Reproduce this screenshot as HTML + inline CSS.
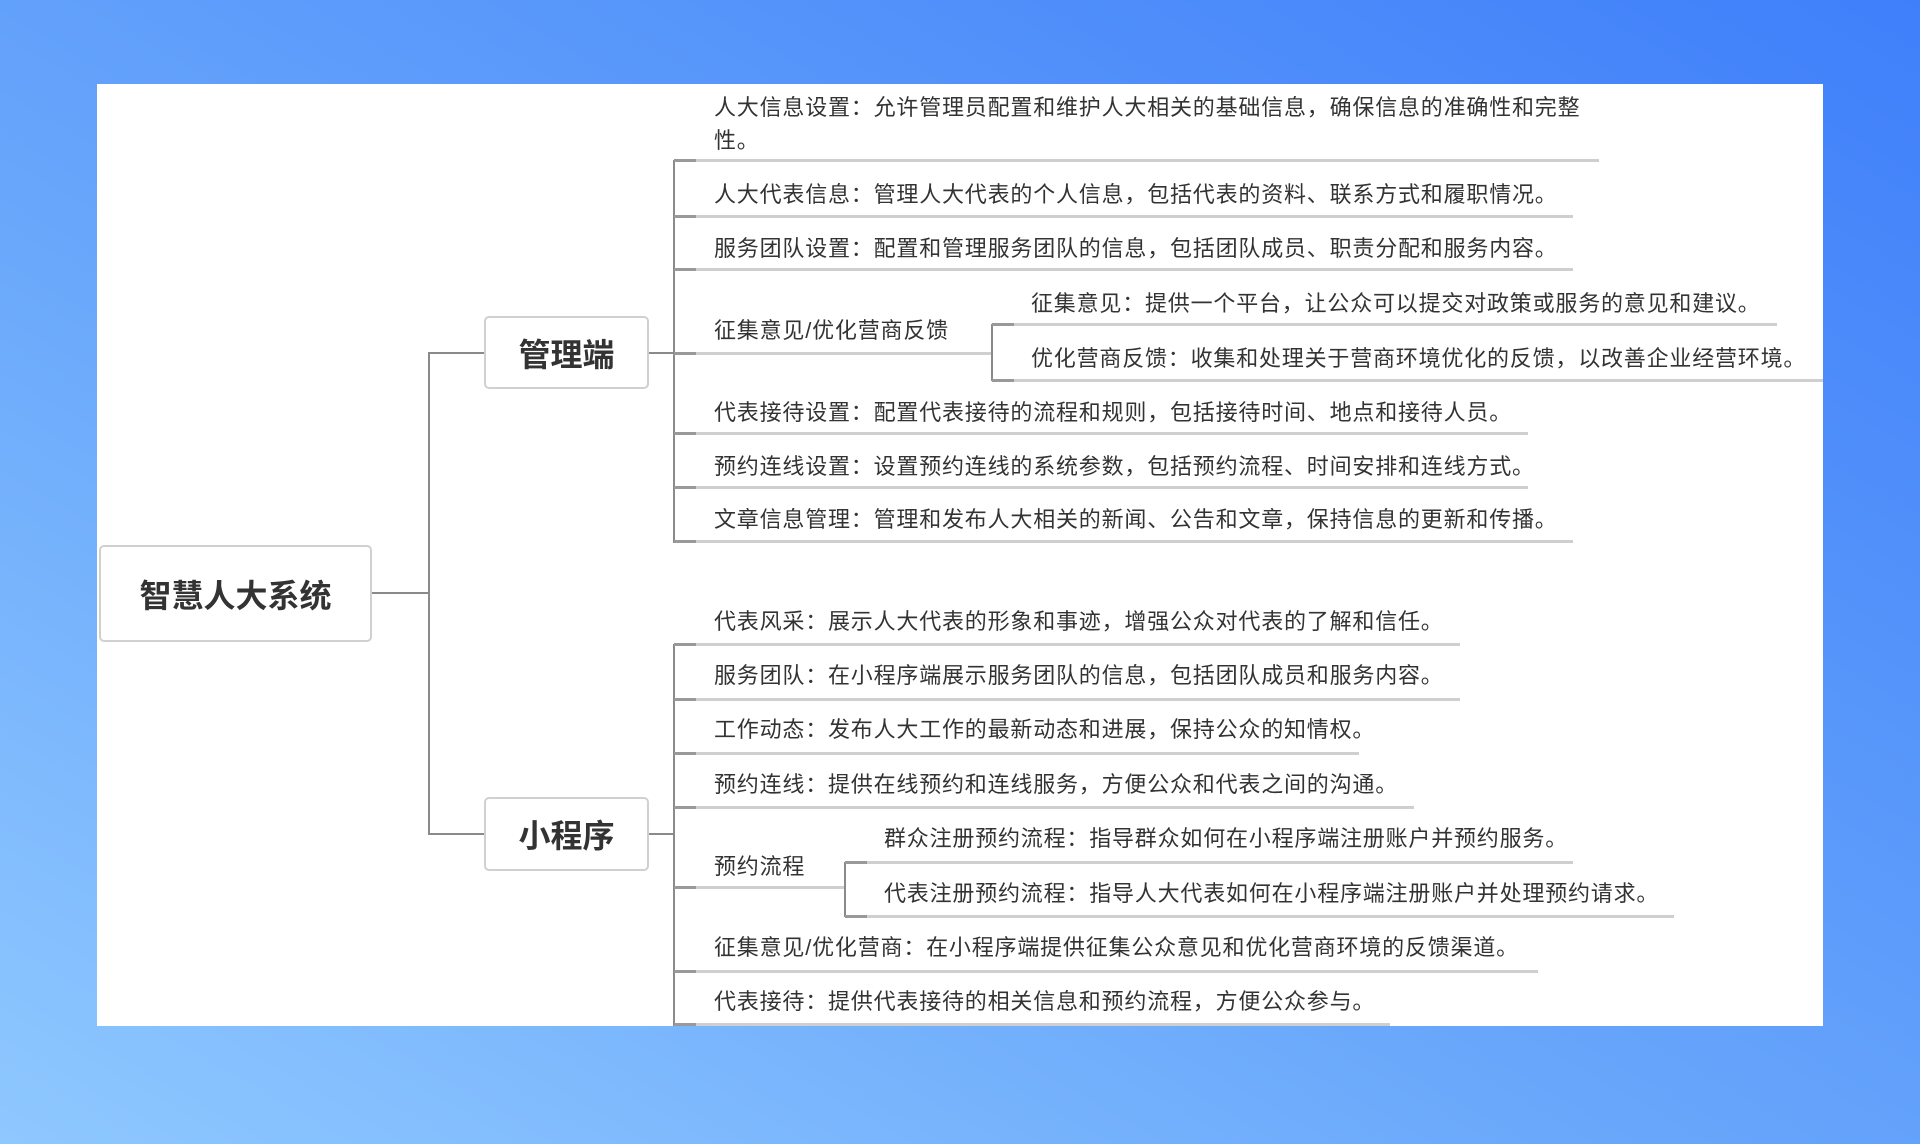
<!DOCTYPE html>
<html><head><meta charset="utf-8"><style>
body{margin:0;width:1920px;height:1144px;overflow:hidden;background:linear-gradient(30deg,#8fc8ff 0%,#6aa8fb 40%,#3f7ffa 100%);font-family:"Liberation Sans","Noto Sans CJK SC",sans-serif;position:relative}
.panel{position:absolute;left:97px;top:84px;width:1726px;height:942px;background:#fff}
.t{position:absolute;font-size:22px;color:#333;line-height:28px;white-space:nowrap;letter-spacing:0.8px}
.h{position:absolute;height:3px;background:#cfcfcf}
.h:before{content:"";position:absolute;left:0;top:0;width:22px;height:3px;background:#999}
.v{position:absolute;width:2px;background:#8a8a8a}
.hl{position:absolute;height:2px;background:#8a8a8a}
.box{position:absolute;border:2px solid #d0d0d0;border-radius:5px;background:#fff;font-weight:bold;color:#333;display:flex;align-items:center;justify-content:center;font-size:32px;box-sizing:border-box}
</style></head><body>
<div class="panel"></div>
<div class="box" style="left:99px;top:545px;width:273px;height:97px">智慧人大系统</div>
<div class="box" style="left:484px;top:316px;width:165px;height:73px">管理端</div>
<div class="box" style="left:484px;top:797px;width:165px;height:74px">小程序</div>
<div class="hl" style="left:372px;top:592px;width:57px"></div>
<div class="v" style="left:428px;top:352px;height:483px"></div>
<div class="hl" style="left:428px;top:352px;width:56px"></div>
<div class="hl" style="left:428px;top:833px;width:56px"></div>
<div class="hl" style="left:649px;top:352px;width:25px"></div>
<div class="hl" style="left:649px;top:833px;width:25px"></div>
<div class="v" style="left:673px;top:160px;height:383px"></div>
<div class="v" style="left:673px;top:644px;height:382px"></div>

<div class="t" style="left:714px;top:94px">人大信息设置：允许管理员配置和维护人大相关的基础信息，确保信息的准确性和完整</div>
<div class="t" style="left:714px;top:127px">性。</div>
<div class="h" style="left:674px;top:159px;width:925px"></div>
<div class="t" style="left:714px;top:181px">人大代表信息：管理人大代表的个人信息，包括代表的资料、联系方式和履职情况。</div>
<div class="h" style="left:674px;top:215px;width:899px"></div>
<div class="t" style="left:714px;top:235px">服务团队设置：配置和管理服务团队的信息，包括团队成员、职责分配和服务内容。</div>
<div class="h" style="left:674px;top:268px;width:899px"></div>
<div class="t" style="left:714px;top:317px">征集意见/优化营商反馈</div>
<div class="h" style="left:674px;top:352px;width:318px"></div>
<div class="v" style="left:991px;top:324px;height:57px"></div>
<div class="t" style="left:1031px;top:290px">征集意见：提供一个平台，让公众可以提交对政策或服务的意见和建议。</div>
<div class="h" style="left:992px;top:323px;width:785px"></div>
<div class="t" style="left:1031px;top:345px">优化营商反馈：收集和处理关于营商环境优化的反馈，以改善企业经营环境。</div>
<div class="h" style="left:992px;top:379px;width:831px"></div>
<div class="t" style="left:714px;top:399px">代表接待设置：配置代表接待的流程和规则，包括接待时间、地点和接待人员。</div>
<div class="h" style="left:674px;top:432px;width:854px"></div>
<div class="t" style="left:714px;top:453px">预约连线设置：设置预约连线的系统参数，包括预约流程、时间安排和连线方式。</div>
<div class="h" style="left:674px;top:486px;width:854px"></div>
<div class="t" style="left:714px;top:506px">文章信息管理：管理和发布人大相关的新闻、公告和文章，保持信息的更新和传播。</div>
<div class="h" style="left:674px;top:540px;width:899px"></div>

<div class="t" style="left:714px;top:608px">代表风采：展示人大代表的形象和事迹，增强公众对代表的了解和信任。</div>
<div class="h" style="left:674px;top:643px;width:786px"></div>
<div class="t" style="left:714px;top:662px">服务团队：在小程序端展示服务团队的信息，包括团队成员和服务内容。</div>
<div class="h" style="left:674px;top:698px;width:786px"></div>
<div class="t" style="left:714px;top:716px">工作动态：发布人大工作的最新动态和进展，保持公众的知情权。</div>
<div class="h" style="left:674px;top:752px;width:685px"></div>
<div class="t" style="left:714px;top:771px">预约连线：提供在线预约和连线服务，方便公众和代表之间的沟通。</div>
<div class="h" style="left:674px;top:806px;width:740px"></div>
<div class="t" style="left:714px;top:853px">预约流程</div>
<div class="h" style="left:674px;top:886px;width:171px"></div>
<div class="v" style="left:844px;top:862px;height:55px"></div>
<div class="t" style="left:884px;top:825px">群众注册预约流程：指导群众如何在小程序端注册账户并预约服务。</div>
<div class="h" style="left:845px;top:861px;width:728px"></div>
<div class="t" style="left:884px;top:880px">代表注册预约流程：指导人大代表如何在小程序端注册账户并处理预约请求。</div>
<div class="h" style="left:845px;top:915px;width:829px"></div>
<div class="t" style="left:714px;top:934px">征集意见/优化营商：在小程序端提供征集公众意见和优化营商环境的反馈渠道。</div>
<div class="h" style="left:674px;top:970px;width:864px"></div>
<div class="t" style="left:714px;top:988px">代表接待：提供代表接待的相关信息和预约流程，方便公众参与。</div>
<div class="h" style="left:674px;top:1023px;width:716px"></div>
</body></html>
